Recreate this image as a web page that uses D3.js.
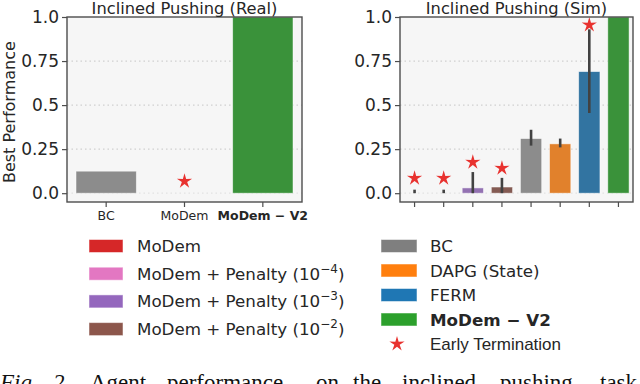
<!DOCTYPE html>
<html>
<head>
<meta charset="utf-8">
<script src="https://cdn.jsdelivr.net/npm/d3@7"></script>
<style>
  html, body { margin: 0; padding: 0; background: #fff; }
  svg { display: block; font-family: "DejaVu Sans", sans-serif; }
</style>
</head>
<body>
<div id="chart"></div>
<script>
// datos
const yTicks = [0, 0.25, 0.5, 0.75, 1.0];
const yTickLabels = ["0.0", "0.25", "0.5", "0.75", "1.0"];

const realCats = ["BC", "MoDem", "MoDem \u2212 V2"];
const realValues = [0.125, 0, 1.0];
const realStars = [null, 0.068, null];
const realColors = ["#8c8c8c", "#c03d3e", "#3a923a"];

const simCats = ["MoDem", "Pen4", "Pen3", "Pen2", "BC", "DAPG", "FERM", "MoDem-V2"];
const simValues = [0, 0, 0.03, 0.035, 0.31, 0.28, 0.69, 1.0];
const simErrLow = [0, 0, 0, 0, 0.27, 0.26, 0.455, 1.0];
const simErrHigh = [0.02, 0.02, 0.12, 0.087, 0.36, 0.31, 0.93, 1.0];
const simStars = [0.085, 0.085, 0.176, 0.142, null, null, 0.955, null];
const simColors = ["#c03d3e", "#d684bd", "#9372b2", "#845b53", "#8c8c8c", "#e1812c", "#3274a1", "#3a923a"];

const legendLeft = [
  { label: "MoDem", sup: null, color: "#d62728" },
  { label: "MoDem + Penalty (10", sup: "\u22124", color: "#e377c2" },
  { label: "MoDem + Penalty (10", sup: "\u22123", color: "#9467bd" },
  { label: "MoDem + Penalty (10", sup: "\u22122", color: "#8c564b" }
];
const legendRight = [
  { label: "BC", color: "#7f7f7f", bold: false },
  { label: "DAPG (State)", color: "#ff7f0e", bold: false },
  { label: "FERM", color: "#1f77b4", bold: false },
  { label: "MoDem \u2212 V2", color: "#2ca02c", bold: true },
  { label: "Early Termination", color: null, star: true }
];

const W = 640, H = 384;
const TXT = "#262626";
const STAR = "#e8322f";

const svg = d3.select("#chart").append("svg")
  .attr("width", W).attr("height", H);

const y = d3.scaleLinear().domain([-0.05, 1.0]).range([202, 17]);

// estrella fina de 5 puntas (como el marcador de matplotlib)
function starPath(R, r) {
  const pts = [];
  for (let i = 0; i < 10; i++) {
    const a = -Math.PI / 2 + i * Math.PI / 5;
    const rad = i % 2 === 0 ? R : r;
    pts.push([Math.cos(a) * rad, Math.sin(a) * rad]);
  }
  return "M" + pts.map(p => p.join(",")).join("L") + "Z";
}
const STAR_D = starPath(8, 2.8);

function panel(x0, x1, cats, values, colors, opts) {
  const x = d3.scaleBand().domain(cats).range([x0, x1]).paddingInner(opts.pad).paddingOuter(opts.pad / 2);
  const g = svg.append("g");

  g.append("rect")
    .attr("x", x0).attr("y", 17)
    .attr("width", x1 - x0).attr("height", 202 - 17)
    .attr("fill", "#f6f6f6");

  // rejilla punteada
  g.selectAll(".grid").data(yTicks.slice(0, 4)).enter().append("line")
    .attr("x1", x0).attr("x2", x1)
    .attr("y1", d => y(d)).attr("y2", d => y(d))
    .attr("stroke", (d, i) => i === 0 ? "#e2e2e2" : "#cfcfcf")
    .attr("stroke-width", 1.3)
    .attr("stroke-dasharray", "1.5,3");

  // barras
  g.selectAll(".bar").data(cats).enter().append("rect")
    .attr("x", d => x(d))
    .attr("width", x.bandwidth())
    .attr("y", (d, i) => y(values[i]))
    .attr("height", (d, i) => Math.max(0, y(0) - y(values[i])))
    .attr("fill", (d, i) => colors[i])
    .attr("stroke", "#ffffff").attr("stroke-opacity", 0.6).attr("stroke-width", 0.8);

  // barras de error
  if (opts.errLow) {
    g.selectAll(".err").data(cats).enter().append("line")
      .filter((d, i) => opts.errHigh[i] - opts.errLow[i] > 0)
      .attr("x1", d => x(d) + x.bandwidth() / 2)
      .attr("x2", d => x(d) + x.bandwidth() / 2)
      .attr("y1", d => y(opts.errLow[cats.indexOf(d)]))
      .attr("y2", d => y(opts.errHigh[cats.indexOf(d)]))
      .attr("stroke", "#424242").attr("stroke-width", 2.6);
  }

  // estrellas de terminacion temprana
  g.selectAll(".star").data(cats.filter((d, i) => opts.stars[i] !== null)).enter().append("path")
    .attr("d", STAR_D)
    .attr("fill", STAR)
    .attr("transform", d => `translate(${x(d) + x.bandwidth() / 2},${y(opts.stars[cats.indexOf(d)])})`);

  // marco
  g.append("rect")
    .attr("x", x0).attr("y", 17)
    .attr("width", x1 - x0).attr("height", 202 - 17)
    .attr("fill", "none").attr("stroke", "#4d4d4d").attr("stroke-width", 1.4);

  // eje y
  const yAxis = g.append("g").attr("transform", `translate(${x0},0)`)
    .call(d3.axisLeft(y).tickValues(yTicks).tickSize(5).tickPadding(3)
      .tickFormat((d, i) => yTickLabels[i]));
  yAxis.select(".domain").remove();
  yAxis.selectAll("line").attr("stroke", "#4d4d4d").attr("stroke-width", 1.2);
  yAxis.selectAll("text").attr("fill", TXT)
    .style("font-size", "17px").style("font-family", "DejaVu Sans");

  // eje x
  const xAxis = g.append("g").attr("transform", `translate(0,202)`)
    .call(d3.axisBottom(x).tickSize(5).tickPadding(4)
      .tickFormat(d => opts.showLabels ? d : ""));
  xAxis.select(".domain").remove();
  xAxis.selectAll("line").attr("stroke", "#4d4d4d").attr("stroke-width", 1.2);
  xAxis.selectAll("text").attr("fill", TXT)
    .style("font-size", "12.5px").style("font-family", "DejaVu Sans")
    .style("font-weight", d => d === "MoDem \u2212 V2" ? "bold" : "normal");

  svg.append("text")
    .attr("x", (x0 + x1) / 2).attr("y", 14)
    .attr("text-anchor", "middle")
    .attr("fill", TXT)
    .style("font-size", "16.3px")
    .text(opts.title);
}

panel(67, 302, realCats, realValues, realColors,
  { pad: 0.23, stars: realStars, showLabels: true, title: "Inclined Pushing (Real)" });
panel(400, 633, simCats, simValues, simColors,
  { pad: 0.27, stars: simStars, errLow: simErrLow, errHigh: simErrHigh, showLabels: false, title: "Inclined Pushing (Sim)" });

svg.append("text")
  .attr("transform", `translate(15,${y(0.46)}) rotate(-90)`)
  .attr("text-anchor", "middle")
  .attr("fill", TXT)
  .style("font-size", "16px")
  .text("Best Performance");

// leyendas
const legL = svg.append("g");
legendLeft.forEach((d, i) => {
  const cy = 246 + i * 27.7;
  legL.append("rect").attr("x", 89).attr("y", cy - 6.5).attr("width", 34).attr("height", 13)
    .attr("fill", d.color).attr("stroke", "#fff").attr("stroke-opacity", 0.5);
  const t = legL.append("text").attr("x", 137).attr("y", cy + 6)
    .attr("fill", TXT).style("font-size", "16.7px");
  t.append("tspan").text(d.label);
  if (d.sup) {
    t.append("tspan").attr("dy", -7).style("font-size", "12px").text(d.sup);
    t.append("tspan").attr("dy", 7).text(")");
  }
});

const legR = svg.append("g");
legendRight.forEach((d, i) => {
  const cy = 246 + i * 24.5;
  if (d.star) {
    legR.append("path").attr("d", STAR_D).attr("fill", STAR)
      .attr("transform", `translate(397,${cy})`);
  } else {
    legR.append("rect").attr("x", 381).attr("y", cy - 6.5).attr("width", 36).attr("height", 13)
      .attr("fill", d.color).attr("stroke", "#fff").attr("stroke-opacity", 0.5);
  }
  legR.append("text").attr("x", 430).attr("y", cy + 6)
    .attr("fill", TXT)
    .style("font-size", d.star ? "17px" : "16.7px")
    .style("font-family", d.star ? "Liberation Sans" : "DejaVu Sans")
    .style("font-weight", d.bold ? "bold" : "normal")
    .text(d.label);
});

// pie de figura (cortado abajo, como en la referencia)
const capWords = ["Fig.", "2.", "Agent", "performance", "on", "the", "inclined", "pushing", "task"];
const capX = [0, 53, 90, 167, 316, 353, 402, 500, 600];
const cap = svg.append("text").attr("y", 390)
  .style("font-family", "Liberation Serif").style("font-size", "23px").attr("fill", "#111");
capWords.forEach((w, i) => {
  cap.append("tspan").attr("x", capX[i])
    .style("font-style", i < 2 ? "italic" : "normal")
    .text(w);
});
</script>
</body>
</html>
